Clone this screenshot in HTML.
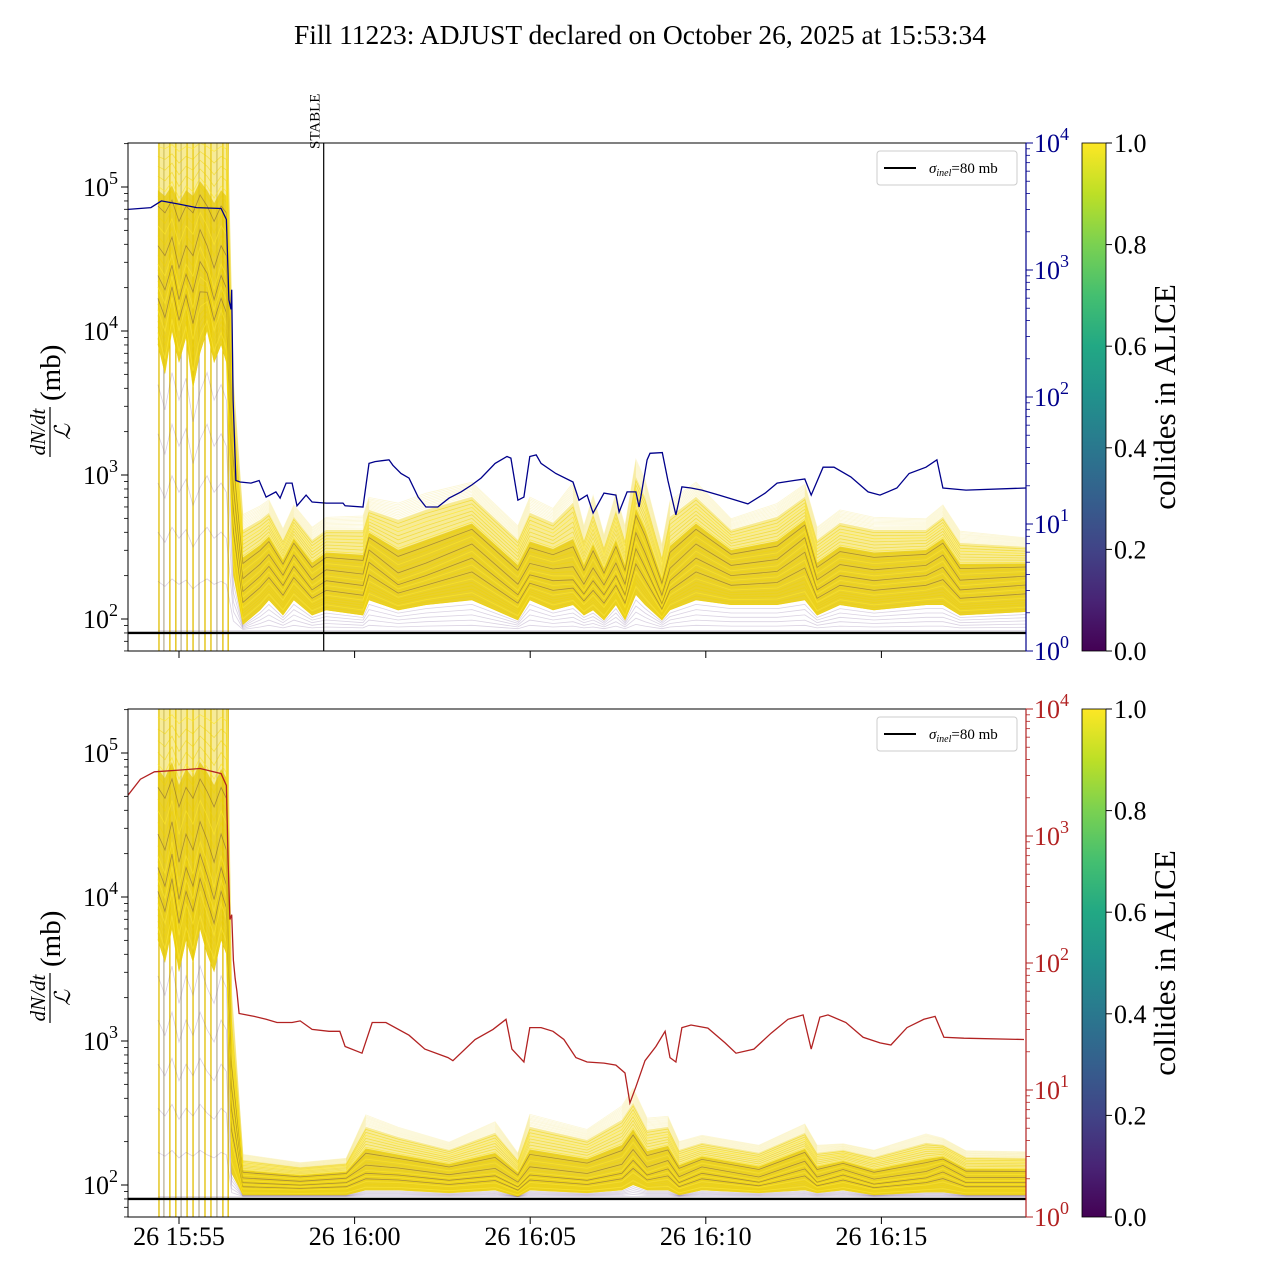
<!DOCTYPE html>
<html><head><meta charset="utf-8"><style>
html,body{margin:0;padding:0;background:#fff}
svg text{font-family:"Liberation Serif","DejaVu Serif",serif}
</style></head><body>
<svg id="chart" width="1280" height="1280" viewBox="0 0 1280 1280" xmlns="http://www.w3.org/2000/svg">
<defs>
<linearGradient id="viridis" x1="0" y1="1" x2="0" y2="0">
<stop offset="0" stop-color="#440154"/><stop offset="0.1" stop-color="#482475"/><stop offset="0.2" stop-color="#414487"/><stop offset="0.3" stop-color="#355f8d"/><stop offset="0.4" stop-color="#2a788e"/><stop offset="0.5" stop-color="#21918c"/><stop offset="0.6" stop-color="#22a884"/><stop offset="0.7" stop-color="#44bf70"/><stop offset="0.8" stop-color="#7ad151"/><stop offset="0.9" stop-color="#bddf26"/><stop offset="1" stop-color="#fde725"/>
</linearGradient>
<clipPath id="clipTop"><rect x="128" y="143" width="898" height="508"/></clipPath>
<clipPath id="clipBot"><rect x="128" y="709" width="898" height="508"/></clipPath>
</defs>
<text x="640" y="44" font-size="27.5" text-anchor="middle">Fill 11223: ADJUST declared on October 26, 2025 at 15:53:34</text>
<g id="top"></g>
<g id="bot"></g>
</svg>
<script>
// ---- data (times in minutes after 15:00 on Oct 26) ----
const xTickMinutes=[55,60,65,70,75];
const xTickLabels=["26 15:55","26 16:00","26 16:05","26 16:10","26 16:15"];
const leftTickExp=[2,3,4,5];
const rightTickExp=[0,1,2,3,4];
const cbTicks=[0.0,0.2,0.4,0.6,0.8,1.0];
const sigmaInel=80;
const stableTime=59.12;
const spikeTimes=[54.43,54.57,54.74,54.91,55.06,55.23,55.4,55.57,55.74,55.91,56.08,56.25,56.4];

const topTimes=[54.4,54.6,54.8,55.0,55.2,55.4,55.6,55.8,56.0,56.2,56.35,56.55,56.82,57.31,57.56,57.96,58.27,58.79,59.19,60.24,60.41,61.24,62.03,63.34,64.65,64.99,65.65,66.22,66.53,66.79,67.1,67.44,67.7,68.01,68.27,68.75,68.98,69.72,70.72,72.03,72.82,73.17,73.82,74.79,76.27,76.75,77.24,79.12];
const topHi=[300000,300000,300000,300000,300000,300000,300000,300000,300000,300000,300000,3000,415,487,545,354,511,354,415,415,571,487,571,703,354,545,464,640,354,545,316,571,354,968,703,270,511,703,415,511,703,354,464,415,415,511,337,316];
const topMid=[30000,25000,35000,20000,30000,25000,40000,30000,20000,30000,25000,700,172,219,257,187,257,172,202,187,278,187,219,301,159,219,202,202,159,202,159,219,159,354,257,135,202,301,219,237,337,172,219,202,219,257,172,187];
const topLo=[8000,5000,10000,6000,9000,4000,7000,10000,6000,8000,6000,200,91,115,135,106,135,106,115,106,135,115,125,135,98,135,115,125,106,115,98,125,98,147,125,98,115,135,125,125,135,106,125,115,125,125,106,112];

const botTimes=[54.4,54.6,54.8,55.0,55.2,55.4,55.6,55.8,56.0,56.2,56.35,56.5,56.82,58.45,59.76,60.32,61.24,62.69,64.0,64.65,64.99,66.62,67.61,67.93,68.33,68.92,69.24,69.89,71.51,72.82,73.17,73.91,74.79,76.27,76.75,77.41,79.12];
const botHi=[300000,300000,300000,300000,300000,300000,300000,300000,300000,300000,300000,1500,149,133,142,253,215,175,230,149,253,205,283,371,241,253,175,196,167,230,167,175,156,196,190,156,154];
const botMid=[20000,15000,25000,12000,20000,15000,25000,18000,12000,20000,15000,400,108,103,108,127,123,112,121,100,123,112,127,160,123,138,108,127,108,138,108,123,105,117,131,108,108];
const botLo=[5000,3500,6000,3000,5000,3500,6000,4000,3000,5000,4000,120,85,85,85,92,92,88,92,83,92,88,92,100,92,92,85,92,88,92,88,92,85,89,89,85,85];

const blueTimes=[53.55,54.2,54.5,55.0,55.5,56.2,56.35,56.42,56.48,56.5,56.54,56.62,56.74,57.05,57.28,57.48,57.76,57.88,58.05,58.22,58.36,58.62,58.79,59.19,59.67,59.73,60.24,60.41,60.58,60.98,61.09,61.32,61.55,61.81,62.03,62.37,62.69,63.03,63.34,63.6,64.0,64.34,64.45,64.65,64.82,64.99,65.17,65.31,65.73,66.22,66.39,66.62,66.79,67.1,67.44,67.53,67.76,68.01,68.1,68.33,68.41,68.76,68.92,69.15,69.32,69.58,69.89,70.38,70.86,71.2,71.69,72.03,72.51,72.82,73.0,73.34,73.65,74.13,74.62,74.96,75.44,75.79,76.27,76.58,76.75,77.41,79.12];
const blueVals=[3000,3100,3500,3300,3100,3050,2500,580,490,700,95,22,21.4,21,22,16.3,17.9,16,21,21,13.9,16.9,14.9,14.6,14.6,13.9,13.6,30,31,32,29,25,23,16.3,13.6,13.6,16,17.9,20.3,23,30,34,33,15.4,16.3,34,35,30,25,21.4,15.4,16.9,12.2,17.5,16.9,12.4,17.9,17.9,13.6,32,36,36.5,22,11.8,19.6,19.2,18.5,16.9,15.4,14.4,17.5,21,22,22.6,16.9,28,28,23.5,17.9,16.9,19.2,25,28,32,19.2,18.5,19.2];

const redTimes=[53.55,53.9,54.3,55.0,55.6,56.2,56.35,56.4,56.45,56.5,56.55,56.6,56.65,56.71,57.14,57.48,57.79,58.22,58.45,58.79,59.27,59.58,59.73,60.21,60.5,60.89,61.55,62.0,62.66,62.8,63.43,63.94,64.31,64.48,64.82,64.99,65.31,65.65,65.96,66.3,66.62,67.1,67.44,67.7,67.84,68.01,68.27,68.58,68.84,68.98,69.15,69.32,69.58,70.06,70.55,70.86,71.37,71.86,72.34,72.77,73.0,73.25,73.48,73.99,74.48,74.96,75.27,75.73,76.21,76.53,76.78,77.35,79.06];
const redVals=[2100,2800,3200,3300,3400,3100,2500,600,220,240,105,75,60,40,38,36,34,34,35,30,29,29,22,19.5,34,34,27,21,18,17,25,30,36,21,16.6,31,31,29,25,18,16.6,16.3,15.7,13.6,7.9,10.6,17,22,29,18,16.6,31,32.5,30.7,23.5,19.5,21,28,36,39,21,37.5,39,34,26,23.5,22.6,31,36,38,26,25.6,25];

// ---- scales ----
const X0=128,X1=1026;
function xs(t){return 179+(t-55)*35.12;}
function yLeft(v,off){return off+619-(Math.log10(v)-2)*144;}
function yRight(v,off){return off+651-Math.log10(v)*127;}
const NS="http://www.w3.org/2000/svg";
function mk(tag,attrs,parent){const e=document.createElementNS(NS,tag);for(const k in attrs)e.setAttribute(k,attrs[k]);parent.appendChild(e);return e;}

function bandLog(lo,mid,hi,f){
  const a=Math.log10(lo),m=Math.log10(mid),b=Math.log10(hi);
  if(f<0.5)return a+(m-a)*2*f;
  return m+(b-m)*(2*f-1);
}

function drawPanel(g,off,times,hi,mid,lo,lineT,lineV,lineColor,clipId){
  const yT=143+off,yB=651+off;
  const data=mk('g',{'clip-path':'url(#'+clipId+')'},g);
  
  
  spikeTimes.forEach((t,i)=>{
    const l=mk('line',{x1:xs(t),x2:xs(t),y1:yT,y2:yB,stroke:i%3===1?'#b8b09a':'#e0bd00','stroke-width':1.3},data);
    
    
  });
  function poly(fa,fb,fill,op,name){
    let pts=[];
    for(let i=0;i<times.length;i++)pts.push(xs(times[i])+','+(off+619-(bandLog(lo[i],mid[i],hi[i],fb)-2)*144));
    for(let i=times.length-1;i>=0;i--)pts.push(xs(times[i])+','+(off+619-(bandLog(lo[i],mid[i],hi[i],fa)-2)*144));
    const p=mk('polygon',{points:pts.join(' '),fill:fill,'fill-opacity':op},data);
    
    
  }
  poly(0,1,'#f0d830',0.5,'band-outer');
  poly(0,0.75,'#e2c400',0.7,'band-core');
  const N=46;
  for(let k=0;k<N;k++){
    const f=-0.2+1.55*k/(N-1);
    let d='';
    for(let i=0;i<times.length;i++){
      let lg;
      if(f<0){const a=Math.log10(lo[i]);lg=a+(a-Math.log10(sigmaInel*1.04))*f*5;}
      else if(f>1){const b=Math.log10(hi[i]),m=Math.log10(mid[i]);lg=b+(b-m)*(f-1)*0.8;}
      else lg=bandLog(lo[i],mid[i],hi[i],f);
      d+=(i?'L':'M')+xs(times[i]).toFixed(1)+','+(off+619-(lg-2)*144).toFixed(1);
    }
    let col='#f0d400',op=0.55,w=0.8;
    if(f<0){col='#6a4a8a';op=0.25;}
    else if(f>1){col='#f5e15a';op=0.25;}
    else if(k%4===2&&f>0.2&&f<0.8){col='#5a3a40';op=0.45;}
    else if(k%4===0){col='#fde725';op=0.7;}
    const p=mk('path',{d:d,fill:'none',stroke:col,'stroke-opacity':op,'stroke-width':w},data);
    
    
  }
  const sl=mk('line',{x1:X0,x2:X1,y1:yLeft(sigmaInel,off),y2:yLeft(sigmaInel,off),stroke:'#000','stroke-width':2.4},data);
  
  
  let d='';
  for(let i=0;i<lineT.length;i++)d+=(i?'L':'M')+xs(lineT[i]).toFixed(1)+','+yRight(lineV[i],off).toFixed(1);
  const lp=mk('path',{d:d,fill:'none',stroke:lineColor,'stroke-width':1.3},data);
  
  

  const fr=mk('rect',{x:X0,y:yT,width:X1-X0,height:508,fill:'none',stroke:'#000','stroke-width':1},g);
  
  
  mk('line',{x1:X1,x2:X1,y1:yT,y2:yB,stroke:lineColor,'stroke-width':1.2},g);
  leftTickExp.forEach(e=>{
    const y=yLeft(Math.pow(10,e),off);
    if(y<yT-1||y>yB+1)return;
    mk('line',{x1:X0-7,x2:X0,y1:y,y2:y,stroke:'#000','stroke-width':1},g);
    const t=mk('text',{x:X0-10,y:y+9,'font-size':26,'text-anchor':'end'},g);
    
    
    t.innerHTML='10<tspan dy="-12" font-size="18">'+e+'</tspan>';
  });
  for(let e=1;e<=5;e++)for(let m=2;m<=9;m++){
    const y=yLeft(m*Math.pow(10,e),off);
    if(y<yT||y>yB)continue;
    mk('line',{x1:X0-4,x2:X0,y1:y,y2:y,stroke:'#000','stroke-width':0.8},g);
  }
  rightTickExp.forEach(e=>{
    const y=yRight(Math.pow(10,e),off);
    mk('line',{x1:X1,x2:X1+7,y1:y,y2:y,stroke:lineColor,'stroke-width':1},g);
    const t=mk('text',{x:X1+8,y:y+9,'font-size':26,fill:lineColor},g);
    
    
    t.innerHTML='10<tspan dy="-12" font-size="18">'+e+'</tspan>';
  });
  for(let e=0;e<4;e++)for(let m=2;m<=9;m++){
    const y=yRight(m*Math.pow(10,e),off);
    mk('line',{x1:X1,x2:X1+4,y1:y,y2:y,stroke:lineColor,'stroke-width':0.8},g);
  }
  xTickMinutes.forEach((m,i)=>{
    mk('line',{x1:xs(m),x2:xs(m),y1:yB,y2:yB+7,stroke:'#000','stroke-width':1},g);
    if(off>0){
      const t=mk('text',{x:xs(m),y:yB+28,'font-size':26,'text-anchor':'middle'},g);
      
      
      t.textContent=xTickLabels[i];
    }
  });
  const yl=mk('g',{transform:'translate(50,'+(397+off)+') rotate(-90)'},g);
  
  
  const n=mk('text',{x:-35,y:-5,'font-size':21,'font-style':'italic','text-anchor':'middle'},yl);n.textContent='dN/dt';
  mk('line',{x1:-60,x2:-10,y1:0,y2:0,stroke:'#000','stroke-width':1.2},yl);
  const dd=mk('text',{x:-35,y:20,'font-size':22,'font-style':'italic','text-anchor':'middle'},yl);dd.textContent='ℒ';
  const mb=mk('text',{x:-4,y:10,'font-size':29},yl);mb.textContent='(mb)';
  const lg=mk('g',{},g);
  
  
  mk('rect',{x:877,y:151+off,width:140,height:34,rx:3,fill:'#fff','fill-opacity':0.85,stroke:'#ccc'},lg);
  mk('line',{x1:884,x2:916,y1:168+off,y2:168+off,stroke:'#000','stroke-width':2},lg);
  const lt=mk('text',{x:929,y:173+off,'font-size':15},lg);
  lt.innerHTML='<tspan font-style="italic">σ</tspan><tspan font-style="italic" font-size="10" dy="3">inel</tspan><tspan dy="-3">=80 mb</tspan>';
  const cb=mk('g',{},g);
  
  
  mk('rect',{x:1082,y:yT,width:24,height:508,fill:'url(#viridis)',stroke:'#000','stroke-width':0.8},cb);
  cbTicks.forEach(v=>{
    const y=yB-v*508;
    mk('line',{x1:1106,x2:1112,y1:y,y2:y,stroke:'#000'},cb);
    const t=mk('text',{x:1114,y:y+9,'font-size':26},cb);
    
    
    t.textContent=v.toFixed(1);
  });
  const cl=mk('text',{x:0,y:0,'font-size':31,'text-anchor':'middle',transform:'translate(1175,'+(397+off)+') rotate(-90)'},cb);
  
  
  cl.textContent='collides in ALICE';
}

const gt=document.getElementById('top'),gb=document.getElementById('bot');
drawPanel(gt,0,topTimes,topHi,topMid,topLo,blueTimes,blueVals,'#00008b','clipTop');
drawPanel(gb,566,botTimes,botHi,botMid,botLo,redTimes,redVals,'#b22222','clipBot');
const sx=xs(stableTime);
const sm=mk('line',{x1:sx,x2:sx,y1:143,y2:651,stroke:'#000','stroke-width':1.2},gt);


const st=mk('text',{x:0,y:0,'font-size':15,transform:'translate('+(sx-4)+',149) rotate(-90)'},gt);


st.textContent='STABLE';
</script>
</body></html>
